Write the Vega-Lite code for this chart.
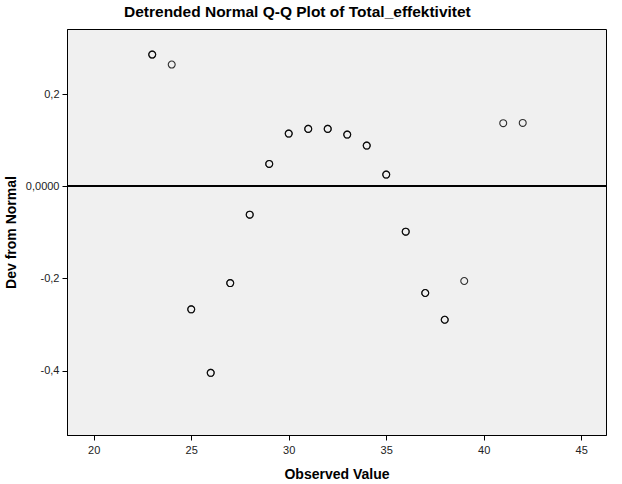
{
  "$schema": "https://vega.github.io/schema/vega-lite/v6.json",
  "autosize": {"type": "none"},
  "padding": {"left": 67, "top": 29, "right": 16, "bottom": 49},
  "width": 539,
  "height": 406,
  "background": "white",
  "title": {
    "text": "Detrended Normal Q-Q Plot of Total_effektivitet",
    "anchor": "start",
    "frame": "group",
    "dx": 57,
    "offset": 9,
    "font": "Liberation Sans",
    "fontSize": 15.5,
    "fontWeight": "bold",
    "color": "#000000"
  },
  "config": {
    "view": {"fill": "#f0f0f0", "stroke": "#000000", "strokeWidth": 1},
    "axis": {
      "labelFont": "Liberation Sans",
      "labelFontSize": 11,
      "labelColor": "#222222",
      "titleFont": "Liberation Sans",
      "titleFontSize": 14,
      "titleFontWeight": "bold",
      "titleColor": "#000000",
      "domainColor": "#000000",
      "tickColor": "#000000",
      "tickSize": 5,
      "grid": false
    }
  },
  "data": {
    "values": [
      {"observed": 23, "dev": 0.2865},
      {"observed": 23, "dev": 0.2865},
      {"observed": 24, "dev": 0.2648},
      {"observed": 25, "dev": -0.267},
      {"observed": 25, "dev": -0.267},
      {"observed": 26, "dev": -0.405},
      {"observed": 26, "dev": -0.405},
      {"observed": 27, "dev": -0.210},
      {"observed": 27, "dev": -0.210},
      {"observed": 28, "dev": -0.0613},
      {"observed": 28, "dev": -0.0613},
      {"observed": 29, "dev": 0.0489},
      {"observed": 29, "dev": 0.0489},
      {"observed": 30, "dev": 0.1148},
      {"observed": 30, "dev": 0.1148},
      {"observed": 31, "dev": 0.125},
      {"observed": 31, "dev": 0.125},
      {"observed": 32, "dev": 0.125},
      {"observed": 32, "dev": 0.125},
      {"observed": 33, "dev": 0.1126},
      {"observed": 33, "dev": 0.1126},
      {"observed": 34, "dev": 0.0887},
      {"observed": 34, "dev": 0.0887},
      {"observed": 35, "dev": 0.0257},
      {"observed": 35, "dev": 0.0257},
      {"observed": 36, "dev": -0.0983},
      {"observed": 36, "dev": -0.0983},
      {"observed": 37, "dev": -0.2315},
      {"observed": 37, "dev": -0.2315},
      {"observed": 38, "dev": -0.2896},
      {"observed": 38, "dev": -0.2896},
      {"observed": 39, "dev": -0.2054},
      {"observed": 41, "dev": 0.1374},
      {"observed": 42, "dev": 0.138}
    ]
  },
  "layer": [
    {
      "mark": {"type": "rule", "color": "#000000", "strokeWidth": 1.2},
      "encoding": {"y": {"datum": 0, "type": "quantitative"}}
    },
    {
      "mark": {"type": "point", "shape": "circle", "filled": false, "stroke": "#000000", "strokeWidth": 1.1, "size": 48, "opacity": 0.8},
      "encoding": {
        "x": {
          "field": "observed",
          "type": "quantitative",
          "title": "Observed Value",
          "scale": {"domain": [18.63, 46.27], "nice": false, "zero": false},
          "axis": {"values": [20, 25, 30, 35, 40, 45], "titlePadding": 12, "labelPadding": 4}
        },
        "y": {
          "field": "dev",
          "type": "quantitative",
          "title": "Dev from Normal",
          "scale": {"domain": [-0.54, 0.342], "nice": false, "zero": false},
          "axis": {
            "values": [-0.4, -0.2, 0, 0.2],
            "labelExpr": "datum.value == 0 ? '0,0000' : (datum.value < 0 ? '-' : '') + replace(format(abs(datum.value), '.1f'), '.', ',')",
            "titlePadding": 7,
            "labelPadding": 3
          }
        }
      }
    }
  ]
}
